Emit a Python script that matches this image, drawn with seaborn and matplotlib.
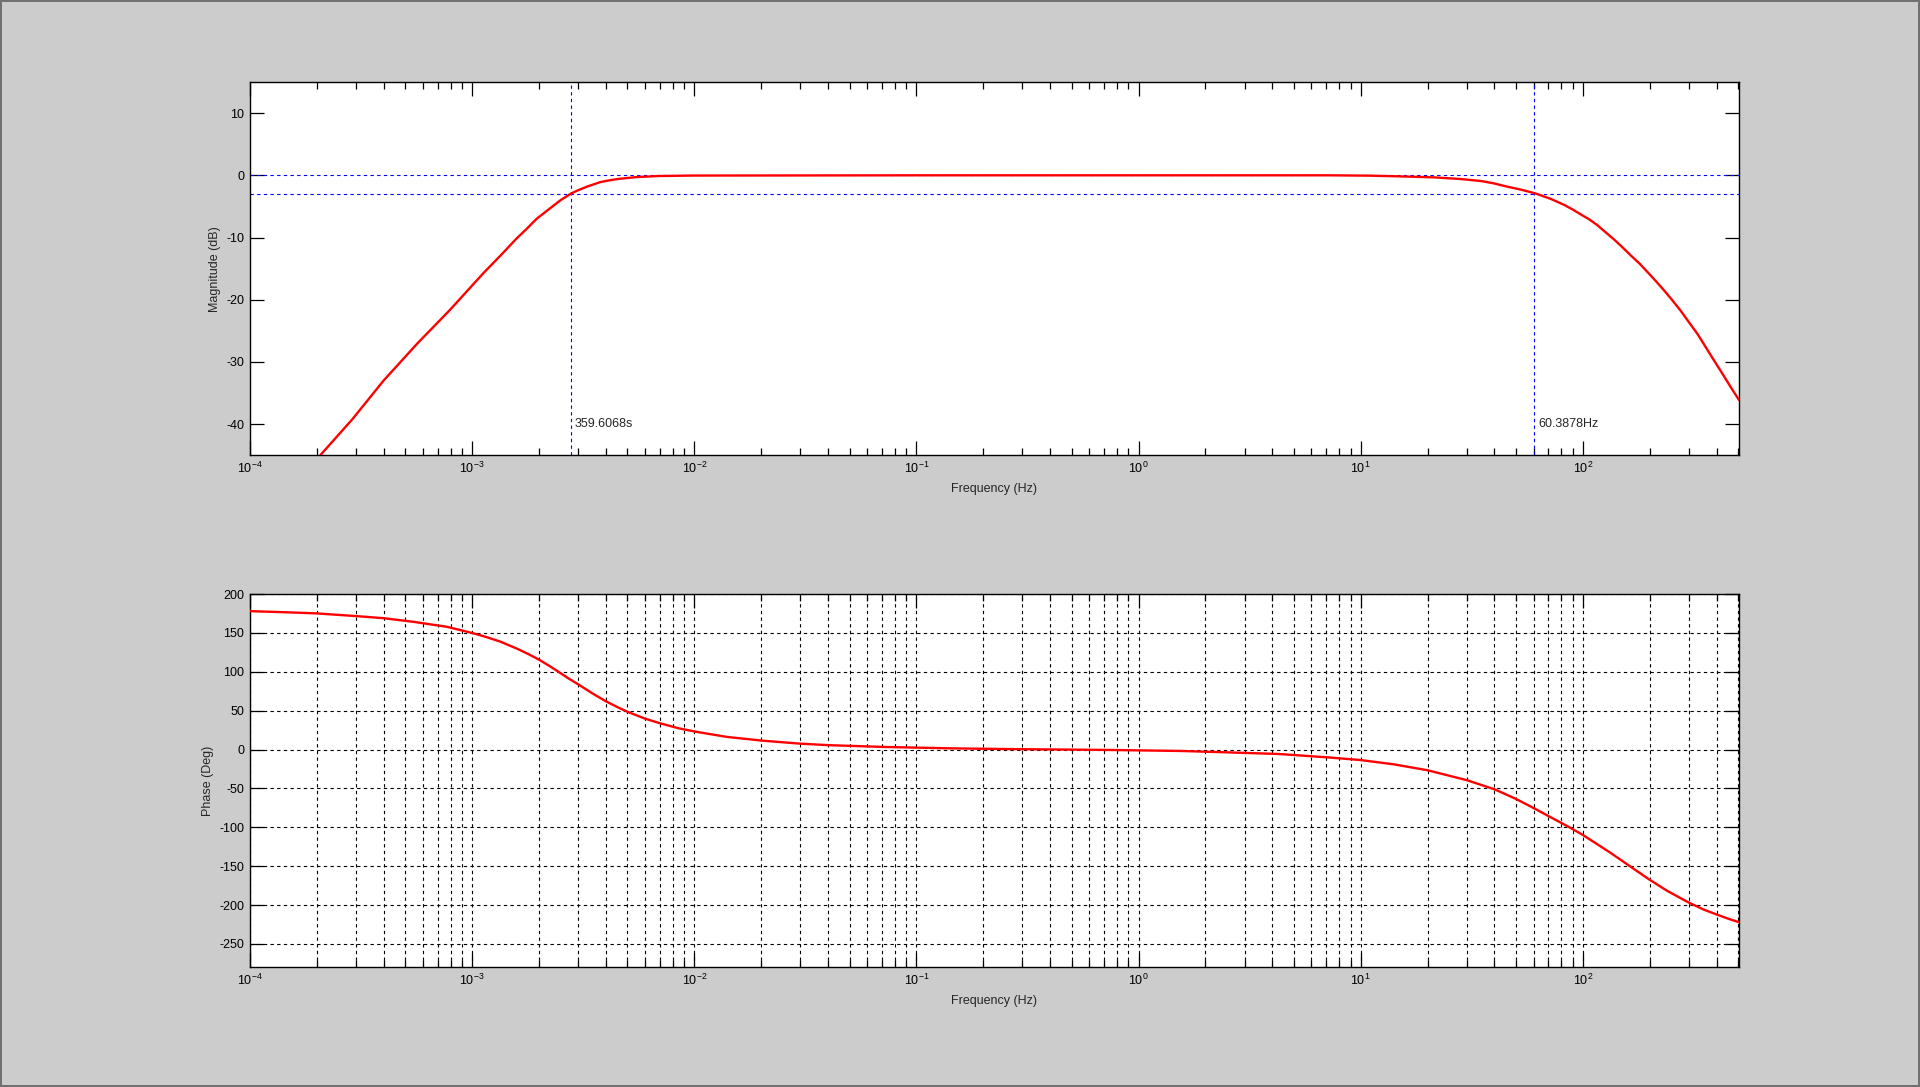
"""
Bode plot (magnitude and phase) of a band-pass response, MATLAB-style figure.
"""

import numpy as np
import matplotlib
matplotlib.use("Agg")
import matplotlib.pyplot as plt
from matplotlib.ticker import LogLocator, NullFormatter, NullLocator
import seaborn as sns

# ---- data ------------------------------------------------------------------
freq_mag = [2.07e-4, 2.89e-4, 3.99e-4, 5.64e-4, 7.96e-4, 1.125e-3, 1.35e-3,
            1.59e-3, 1.75e-3, 1.95e-3, 2.1e-3, 2.3e-3, 2.5e-3, 2.78e-3, 3e-3,
            3.3e-3, 3.77e-3, 4e-3, 4.5e-3, 5.5e-3, 7e-3, 1e-2, 1e-1, 1.0, 7.3,
            11.1, 14.6, 21.4, 28.2, 34.8, 39.8, 45.7, 52.6, 61.0, 71.8, 82.3,
            90.0, 98.0, 107.0, 116.0, 126.0, 138.0, 150.0, 164.0, 180.0, 196.0,
            213.0, 232.0, 253.0, 276.0, 300.0, 328.0, 357.0, 390.0, 425.0,
            464.0, 504.0]
mag_db = [-45.0, -39.2, -33.0, -27.1, -21.6, -15.7, -12.8,
          -10.1, -8.7, -7.0, -6.1, -5.0, -4.0, -2.95, -2.4,
          -1.8, -1.1, -0.91, -0.6, -0.28, -0.11, -0.04, 0.0, 0.0, 0.0,
          -0.06, -0.16, -0.33, -0.6, -0.92, -1.3, -1.83, -2.3, -2.9, -3.8, -4.75,
          -5.5, -6.3, -7.1, -8.0, -9.1, -10.3, -11.5, -12.85, -14.2, -15.6,
          -17.0, -18.5, -20.1, -21.8, -23.6, -25.5, -27.6, -29.8, -31.9,
          -34.1, -36.1]

freq_ph = [1e-4, 1.51e-4, 2e-4, 3.02e-4, 3.98e-4, 5.44e-4, 7.69e-4, 1.005e-3,
           1.15e-3, 1.34e-3, 1.6e-3, 1.8e-3, 1.99e-3, 2.25e-3, 2.49e-3,
           2.75e-3, 3.01e-3, 3.5e-3, 3.97e-3, 4.5e-3, 5.01e-3, 6e-3, 7.03e-3,
           8.5e-3, 1.005e-2, 1.4e-2, 2.02e-2, 3e-2, 4e-2, 7.13e-2, 0.142,
           0.252, 0.748, 1.55, 2.47, 4.29, 7.08, 10.0, 14.1, 20.0, 30.0, 40.2,
           50.0, 60.4, 70.0, 85.9, 100.0, 115.0, 134.0, 160.0, 200.0, 240.0,
           299.0, 350.0, 403.0, 450.0, 504.0]
phase_deg = [178.0, 176.4, 175.1, 171.6, 169.0, 164.3, 157.9, 149.8,
             145.0, 138.8, 129.5, 122.5, 116.0, 106.8, 98.6,
             90.5, 83.7, 71.8, 62.6, 54.7, 48.5, 39.8, 33.7,
             27.4, 23.2, 16.3, 11.5, 7.6, 5.7, 3.4, 1.6,
             0.7, -0.5, -1.8, -3.5, -5.7, -10.0, -13.5, -19.0, -26.6, -39.3, -51.3,
             -63.5, -75.6, -85.5, -99.1, -109.8, -121.0, -133.3, -148.5, -167.5, -181.8,
             -196.6, -205.8, -212.4, -217.4, -222.0]

period_low = 359.6068      # s, lower -3 dB point given as a period
cutoff_high = 60.3878      # Hz, upper -3 dB point
ref_levels = [0, -3]       # dB reference lines

x_limits = (1e-4, 504.0)
mag_limits = (-45, 15)
mag_ticks = [-40, -30, -20, -10, 0, 10]
phase_limits = (-280, 200)
phase_ticks = [-250, -200, -150, -100, -50, 0, 50, 100, 150, 200]

# ---- style -----------------------------------------------------------------
sns.set_style("ticks")
plt.rcParams["font.family"] = ["Liberation Sans", "DejaVu Sans"]
plt.rcParams["mathtext.fontset"] = "custom"
plt.rcParams["mathtext.rm"] = "Liberation Sans"
plt.rcParams["mathtext.it"] = "Liberation Sans:italic"
plt.rcParams["mathtext.bf"] = "Liberation Sans:bold"
plt.rcParams["axes.unicode_minus"] = False
plt.rcParams["font.size"] = 9

FS = 9
dots = (0, (3, 3))

fig = plt.figure(figsize=(19.2, 10.87), dpi=100, facecolor="#CCCCCC")
fig.patch.set_edgecolor("#707070")
fig.patch.set_linewidth(1.5)

ax1 = fig.add_axes([0.1302, 0.5811, 0.7755, 0.3435])
ax2 = fig.add_axes([0.1302, 0.1101, 0.7755, 0.3434])


def style_axis(ax):
    ax.set_facecolor("white")
    ax.set_xscale("log")
    ax.set_xlim(*x_limits)
    ax.xaxis.set_major_locator(LogLocator(base=10, numticks=20))
    ax.xaxis.set_minor_locator(LogLocator(base=10, subs=np.arange(2, 10), numticks=20))
    ax.xaxis.set_minor_formatter(NullFormatter())
    ax.yaxis.set_minor_locator(NullLocator())
    for s in ax.spines.values():
        s.set_visible(True)
        s.set_color("black")
        s.set_linewidth(1.0)
    ax.tick_params(which="both", direction="in", top=True, right=True,
                   color="black", labelsize=FS, labelcolor="black")
    ax.tick_params(which="major", length=10, width=0.9, pad=4)
    ax.tick_params(which="minor", length=5, width=0.9)
    ax.set_xlabel("Frequency (Hz)", fontsize=FS, labelpad=5)


# ---- magnitude -------------------------------------------------------------
style_axis(ax1)
ax1.set_ylim(*mag_limits)
ax1.set_yticks(mag_ticks)
for lvl in ref_levels:
    ax1.axhline(lvl, color="#0000FF", lw=0.8, ls=dots, zorder=1)
ax1.axvline(1.0 / period_low, color="#0000FF", lw=0.8, ls=dots, zorder=1)
ax1.axvline(cutoff_high, color="#0000FF", lw=0.8, ls=dots, zorder=1)
sns.lineplot(x=freq_mag, y=mag_db, ax=ax1, color="red", linewidth=1.7,
             sort=False, estimator=None, zorder=3)
ax1.annotate(f"{period_low:.4f}s", xy=(1.0 / period_low, -40), xytext=(3, 0),
             textcoords="offset points", ha="left", va="center", fontsize=FS)
ax1.annotate(f"{cutoff_high:.4f}Hz", xy=(cutoff_high, -40), xytext=(3, 0),
             textcoords="offset points", ha="left", va="center", fontsize=FS)
ax1.set_ylabel("Magnitude (dB)", fontsize=FS, labelpad=4)

# ---- phase -----------------------------------------------------------------
style_axis(ax2)
ax2.set_ylim(*phase_limits)
ax2.set_yticks(phase_ticks)
ax2.set_axisbelow(True)
ax2.grid(True, which="both", axis="x", color="black", lw=0.8, ls=dots)
ax2.grid(True, which="major", axis="y", color="black", lw=0.8, ls=dots)
sns.lineplot(x=freq_ph, y=phase_deg, ax=ax2, color="red", linewidth=1.7,
             sort=False, estimator=None, zorder=3)
ax2.set_ylabel("Phase (Deg)", fontsize=FS, labelpad=4)

fig.savefig("out.png", dpi=100, facecolor=fig.get_facecolor(),
            edgecolor=fig.patch.get_edgecolor())
